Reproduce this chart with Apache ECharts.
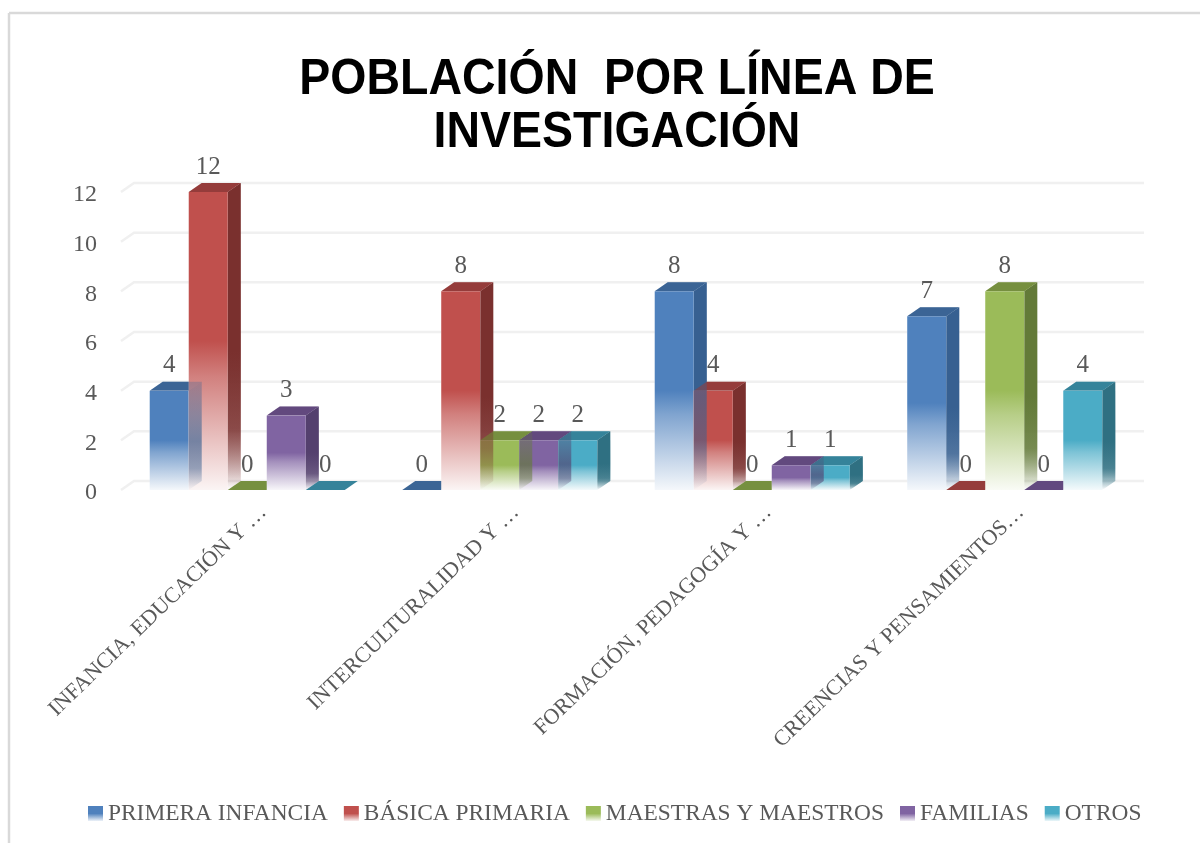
<!DOCTYPE html>
<html><head><meta charset="utf-8">
<style>html,body{margin:0;padding:0;background:#fff}#c{width:1200px;height:843px}</style>
<script src="https://cdn.jsdelivr.net/npm/echarts@6/dist/echarts.min.js"></script>
</head><body><div id="c"></div>
<script>
const titleText = 'POBLACIÓN  POR LÍNEA DE\nINVESTIGACIÓN';
const categories = ['INFANCIA, EDUCACIÓN Y …','INTERCULTURALIDAD Y …','FORMACIÓN, PEDAGOGÍA Y …','CREENCIAS Y PENSAMIENTOS…'];
const seriesNames = ['PRIMERA INFANCIA','BÁSICA PRIMARIA','MAESTRAS Y MAESTROS','FAMILIAS','OTROS'];
const primeraInfancia = [4,0,8,7];
const basicaPrimaria = [12,8,4,0];
const maestras = [0,2,0,8];
const familias = [3,2,1,0];
const otros = [0,2,1,4];
const yTicks = [0,2,4,6,8,10,12];
const allValues = [primeraInfancia,basicaPrimaria,maestras,familias,otros];
const frontColors = ['#4f81bd','#c0504d','#9bbb59','#8064a2','#4bacc6'];
const sideColors = ['55,96,145','122,48,46','99,122,56','84,64,110','47,112,130'];
const topColors = ['#3b6595','#953d3b','#76903f','#62497f','#36839a'];
const FONT = '"Liberation Serif"';
const DX = 13, DY = 9;
const LF = echarts.graphic.LinearGradient;
function hexA(h,a){const n=parseInt(h.slice(1),16);return `rgba(${n>>16},${(n>>8)&255},${n&255},${a})`;}
function frontFill(i){return new LF(0,0,0,1,[
  {offset:0,color:frontColors[i]},{offset:0.5,color:frontColors[i]},
  {offset:0.62,color:hexA(frontColors[i],0.72)},{offset:1,color:hexA(frontColors[i],0.06)}]);}
function sideFill(i){return new LF(0,0,0,1,[
  {offset:0,color:`rgba(${sideColors[i]},1)`},{offset:0.55,color:`rgba(${sideColors[i]},1)`},
  {offset:0.8,color:`rgba(${sideColors[i]},0.75)`},{offset:1,color:`rgba(${sideColors[i]},0)`}]);}
function overlayFill(i){return new LF(0,0,0,1,[
  {offset:0,color:`rgba(${sideColors[i]},0.3)`},{offset:0.55,color:`rgba(${sideColors[i]},0.65)`},
  {offset:0.8,color:`rgba(${sideColors[i]},0.5)`},{offset:1,color:`rgba(${sideColors[i]},0)`}]);}
function poly(points,fill,z2){return {type:'polygon',z2,shape:{points},style:{fill}};}
function renderBar(params,api){
  const i = params.seriesIndex-1;
  const v = api.value(1);
  const c = api.coord([api.value(0),v]);
  const base = api.coord([api.value(0),0]);
  const band = api.size([1,0])[0];
  const w = band*0.1545;
  const x0 = c[0]-2.5*w+i*w, x1 = x0+w, yT = c[1], yB = base[1];
  const kids = [];
  const topPts = [[x0,yT],[x1,yT],[x1+DX,yT-DY],[x0+DX,yT-DY]];
  if(v>0){
    const sidePts = [[x1,yT],[x1+DX,yT-DY],[x1+DX,yB-DY],[x1,yB]];
    kids.push(poly(sidePts,sideFill(i),10*i));
    kids.push({type:'rect',z2:10*i+1,shape:{x:x0,y:yT,width:w,height:yB-yT},style:{fill:'#fff'}});
    kids.push({type:'rect',z2:10*i+2,shape:{x:x0,y:yT,width:w,height:yB-yT},style:{fill:frontFill(i)}});
    kids.push(poly(sidePts,overlayFill(i),100));
    kids.push(poly(topPts,topColors[i],10*i));
    kids.push(poly(topPts,hexA(topColors[i],0.3),100));
  } else {
    kids.push(poly(topPts,topColors[i],10*i));
  }
  kids.push({type:'text',z2:200,style:{text:String(v),x:(x0+x1)/2,y:yT-25,align:'center',verticalAlign:'middle',
    font:`25px ${FONT}`,fill:'#595959'}});
  return {type:'group',children:kids};
}
function renderWall(params,api){
  const r = params.coordSys;
  const y = api.coord([0,api.value(0)])[1];
  return {type:'polyline',z2:-1,shape:{points:[[r.x,y],[r.x+DX,y-DY],[r.x+r.width+DX,y-DY]]},
    style:{stroke:'#f0f0f0',lineWidth:2.5,fill:null}};
}
const series = [{type:'custom',name:'wall',silent:true,renderItem:renderWall,data:yTicks.map(t=>[t]),encode:{y:0},z:1}];
seriesNames.forEach((n,i)=>series.push({
  type:'custom',name:n,renderItem:renderBar,z:2,
  itemStyle:{color:new LF(0,0,0,1,[{offset:0,color:frontColors[i]},{offset:0.5,color:frontColors[i]},{offset:1,color:hexA(frontColors[i],0.1)}])},
  encode:{x:0,y:1},
  data:allValues[i].map((v,k)=>[k,v])
}));
const chart = echarts.init(document.getElementById('c'),null,{renderer:'canvas'});
chart.setOption({
  animation:false,
  backgroundColor:'#fff',
  grid:[{left:121,width:1010,top:192,height:298},{left:137,width:1010,top:192,height:298}],
  legend:{data:seriesNames,left:88,top:802,padding:0,icon:'rect',itemWidth:15,itemHeight:15,itemGap:16,
    textStyle:{fontFamily:FONT,fontSize:23.4,color:'#595959'}},
  xAxis:[
    {type:'category',gridIndex:0,data:categories,axisLine:{show:false},axisTick:{show:false},axisLabel:{show:false}},
    {type:'category',gridIndex:1,data:categories,axisLine:{show:false},axisTick:{show:false},
      axisLabel:{rotate:44,interval:0,fontFamily:FONT,fontSize:22,color:'#595959',margin:19}}
  ],
  yAxis:[
    {type:'value',gridIndex:0,min:0,max:12,interval:2,axisLine:{show:false},axisTick:{show:false},splitLine:{show:false},
      axisLabel:{fontFamily:FONT,fontSize:24,color:'#595959',margin:24,verticalAlign:'top',lineHeight:6}},
    {type:'value',gridIndex:1,min:0,max:12,interval:2,show:false,splitLine:{show:false}}
  ],
  graphic:[
    {type:'line',shape:{x1:9,y1:13,x2:1200,y2:13},style:{stroke:'#d9d9d9',lineWidth:2.5}},
    {type:'line',shape:{x1:9,y1:13,x2:9,y2:843},style:{stroke:'#d9d9d9',lineWidth:2.5}},
    {type:'text',x:617,y:107,scaleX:0.93,style:{text:titleText,textAlign:'center',textVerticalAlign:'middle',
      font:'bold 50px "Liberation Sans"',lineHeight:53,fill:'#000'}}
  ],
  series
});
</script></body></html>
